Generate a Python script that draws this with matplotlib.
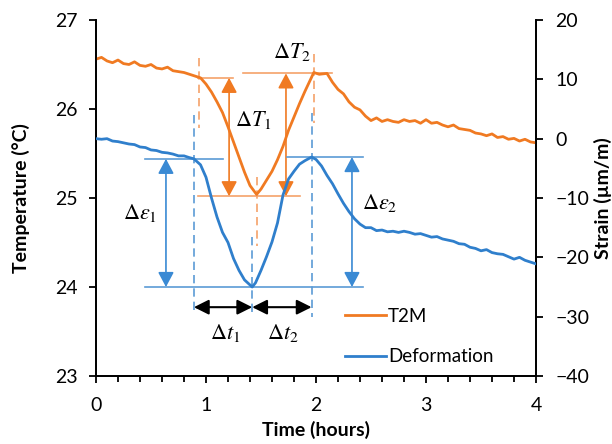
import numpy as np
import matplotlib
matplotlib.use('Agg')
import matplotlib.pyplot as plt
from matplotlib.ticker import MultipleLocator

plt.rcParams['font.family'] = ['Lato', 'DejaVu Sans']
plt.rcParams['mathtext.fontset'] = 'stix'

# T2M temperature (degC), left axis
t_temp = [0.00, 0.05, 0.10, 0.15, 0.20, 0.25, 0.30, 0.35, 0.40, 0.45, 0.50, 0.55, 0.60, 0.65,
          0.70, 0.75, 0.80, 0.85, 0.90, 0.95, 1.00, 1.05, 1.10, 1.15, 1.20, 1.25, 1.30, 1.35,
          1.40, 1.46, 1.50, 1.55, 1.60, 1.65, 1.70, 1.75, 1.80, 1.85, 1.90, 1.98, 2.03, 2.10,
          2.15, 2.20, 2.25, 2.30, 2.35, 2.40, 2.45, 2.50, 2.55, 2.60, 2.65, 2.70, 2.75, 2.80,
          2.85, 2.90, 2.95, 3.00, 3.05, 3.10, 3.15, 3.20, 3.25, 3.30, 3.35, 3.40, 3.45, 3.50,
          3.55, 3.60, 3.65, 3.70, 3.75, 3.80, 3.85, 3.90, 3.95, 4.00]
temp = [26.56, 26.58, 26.54, 26.52, 26.55, 26.51, 26.50, 26.53, 26.49, 26.48, 26.50, 26.46,
        26.45, 26.47, 26.43, 26.42, 26.41, 26.39, 26.37, 26.35, 26.28, 26.19, 26.08, 25.96,
        25.80, 25.63, 25.46, 25.29, 25.14, 25.04, 25.10, 25.20, 25.30, 25.43, 25.58, 25.76,
        25.91, 26.06, 26.20, 26.41, 26.39, 26.40, 26.30, 26.22, 26.17, 26.08, 26.02, 25.99,
        25.92, 25.87, 25.90, 25.86, 25.88, 25.86, 25.85, 25.88, 25.86, 25.87, 25.84, 25.88,
        25.84, 25.85, 25.82, 25.80, 25.82, 25.78, 25.77, 25.76, 25.73, 25.72, 25.70, 25.72,
        25.68, 25.69, 25.66, 25.67, 25.64, 25.66, 25.63, 25.62]

# Deformation strain (um/m), right axis
t_strain = [0.00, 0.05, 0.10, 0.15, 0.20, 0.25, 0.30, 0.35, 0.40, 0.45, 0.50, 0.55, 0.60, 0.65,
            0.70, 0.75, 0.80, 0.85, 0.89, 0.95, 1.00, 1.05, 1.10, 1.15, 1.20, 1.25, 1.30, 1.35,
            1.42, 1.45, 1.50, 1.55, 1.60, 1.65, 1.70, 1.75, 1.80, 1.85, 1.90, 1.96, 2.00, 2.05,
            2.10, 2.15, 2.20, 2.25, 2.30, 2.35, 2.40, 2.45, 2.50, 2.55, 2.60, 2.65, 2.70, 2.75,
            2.80, 2.85, 2.90, 2.95, 3.00, 3.05, 3.10, 3.15, 3.20, 3.25, 3.30, 3.35, 3.40, 3.45,
            3.50, 3.55, 3.60, 3.65, 3.70, 3.75, 3.80, 3.85, 3.90, 3.95, 4.00]
strain = [0.0, -0.1, 0.0, -0.4, -0.5, -0.7, -0.9, -1.0, -1.4, -1.5, -1.9, -2.0, -2.3, -2.4,
          -2.6, -2.9, -2.9, -3.2, -3.4, -4.4, -6.5, -10.0, -13.2, -15.8, -17.5, -20.2, -22.2,
          -23.8, -25.0, -24.3, -22.2, -19.9, -17.4, -14.2, -9.5, -6.8, -5.5, -4.3, -3.7, -3.1,
          -3.5, -4.6, -6.2, -7.6, -9.3, -10.9, -12.3, -13.5, -14.4, -15.0, -15.0, -15.5, -15.4,
          -15.7, -15.6, -15.8, -15.6, -15.8, -16.1, -16.0, -16.3, -16.6, -16.5, -16.9, -17.1,
          -17.3, -17.7, -17.8, -18.3, -18.5, -18.9, -18.7, -19.2, -19.4, -19.5, -19.9, -20.3,
          -20.0, -20.5, -20.8, -21.1]

# annotation anchors: start / extreme / end of each swing
t_ev_temp = [0.94, 1.46, 1.98]
lvl_temp = [26.35, 25.02, 26.40]
t_ev_strain = [0.89, 1.42, 1.96]
lvl_strain = [-3.4, -25.0, -3.1]

c_temp = '#F07A22'
c_strain = '#2F7FCC'
c_temp_a = '#F5A26A'
c_strain_a = '#5B9BD5'

fig, ax = plt.subplots(figsize=(6.12, 4.44), dpi=100)
fig.subplots_adjust(left=96 / 612, right=536 / 612, bottom=1 - 376 / 444, top=1 - 20 / 444)
ax2 = ax.twinx()

l1, = ax.plot(t_temp, temp, color=c_temp, lw=2, label='T2M', zorder=5)
l2, = ax2.plot(t_strain, strain, color=c_strain, lw=2, label='Deformation', zorder=5)

ax.set_xlim(0, 4)
ax.set_ylim(23, 27)
ax2.set_ylim(-40, 20)
ax.xaxis.set_major_locator(MultipleLocator(1))
ax.xaxis.set_minor_locator(MultipleLocator(0.2))
ax.yaxis.set_major_locator(MultipleLocator(1))
ax2.yaxis.set_major_locator(MultipleLocator(10))

for a in (ax, ax2):
    a.spines['top'].set_visible(False)
    for s in ('left', 'right', 'bottom'):
        a.spines[s].set_linewidth(1.3)
ax.tick_params(axis='both', which='major', labelsize=14, length=5, width=1.3, direction='out')
ax.tick_params(axis='x', which='minor', length=4, width=1.3, direction='out')
ax.tick_params(axis='x', pad=10)
ax.tick_params(axis='y', pad=8)
ax2.tick_params(axis='y', labelsize=14, length=5, width=1.3, direction='out', pad=9)

ax.set_xlabel('Time (hours)', fontsize=14, fontweight='bold', labelpad=5)
ax.set_ylabel('Temperature (°C)', fontsize=14, fontweight='bold', labelpad=18)
ax2.set_ylabel('Strain (µm/m)', fontsize=14, fontweight='bold', labelpad=3)

dash = (0, (5, 3))
# temperature guides
for t, lv in zip(t_ev_temp, lvl_temp):
    ax.plot([t, t], [lv + 0.22, lv - 0.56], color=c_temp_a, lw=1.2, linestyle=dash)
ax.plot([0.93, 1.245], [lvl_temp[0]] * 2, color=c_temp_a, lw=1.2)
ax.plot([1.335, 2.145], [lvl_temp[2]] * 2, color=c_temp_a, lw=1.2)
ax.plot([0.93, 1.855], [lvl_temp[1]] * 2, color=c_temp_a, lw=1.2)
arr_t = dict(arrowstyle='<|-|>,head_length=0.6,head_width=0.32', color=c_temp, lw=1.2,
             shrinkA=0, shrinkB=0, mutation_scale=15)
ax.annotate('', xy=(1.21, lvl_temp[1]), xytext=(1.21, lvl_temp[0]), arrowprops=arr_t)
ax.annotate('', xy=(1.727, lvl_temp[1]), xytext=(1.727, lvl_temp[2]), arrowprops=arr_t)
ax.text(1.43, 25.88, r'$\Delta T_1$', fontsize=16, ha='center', va='center')
ax.text(1.78, 26.64, r'$\Delta T_2$', fontsize=16, ha='center', va='center')

# strain guides
ax2.plot([t_ev_strain[0]] * 2, [4.0, -29.4], color=c_strain_a, lw=1.2, linestyle=dash)
ax2.plot([t_ev_strain[1]] * 2, [-16.6, -29.4], color=c_strain_a, lw=1.2, linestyle=dash)
ax2.plot([t_ev_strain[2]] * 2, [4.3, -30.1], color=c_strain_a, lw=1.2, linestyle=dash)
ax2.plot([0.445, 1.155], [lvl_strain[0]] * 2, color=c_strain_a, lw=1.2)
ax2.plot([1.736, 2.43], [lvl_strain[2]] * 2, color=c_strain_a, lw=1.2)
ax2.plot([0.445, 2.43], [lvl_strain[1]] * 2, color=c_strain_a, lw=1.2)
arr_s = dict(arrowstyle='<|-|>,head_length=0.6,head_width=0.32', color='#3A8AD4', lw=1.2,
             shrinkA=0, shrinkB=0, mutation_scale=15)
ax2.annotate('', xy=(0.636, lvl_strain[1]), xytext=(0.636, lvl_strain[0]), arrowprops=arr_s)
ax2.annotate('', xy=(2.327, lvl_strain[1]), xytext=(2.327, lvl_strain[2]), arrowprops=arr_s)
ax2.text(0.40, -12.5, r'$\Delta \varepsilon_1$', fontsize=16, ha='center', va='center')
ax2.text(2.58, -10.8, r'$\Delta \varepsilon_2$', fontsize=16, ha='center', va='center')

# time lag arrows
arr_k = dict(arrowstyle='<|-|>,head_length=0.6,head_width=0.3', color='black', lw=1.5,
             shrinkA=0, shrinkB=0, mutation_scale=15)
ax2.annotate('', xy=(t_ev_strain[0], -28.4), xytext=(t_ev_strain[1], -28.4), arrowprops=arr_k)
ax2.annotate('', xy=(t_ev_strain[1], -28.4), xytext=(t_ev_strain[2], -28.4), arrowprops=arr_k)
ax2.text(1.17, -32.7, r'$\Delta t_1$', fontsize=16, ha='center', va='center')
ax2.text(1.70, -32.7, r'$\Delta t_2$', fontsize=16, ha='center', va='center')

leg = ax2.legend([l1, l2], ['T2M', 'Deformation'], loc='lower left',
                 bbox_to_anchor=(0.566, 0.03), frameon=False, fontsize=13.5,
                 handlelength=2.2, handletextpad=0.1, labelspacing=1.25,
                 borderpad=0, borderaxespad=0)

fig.savefig('out.png', dpi=100)
